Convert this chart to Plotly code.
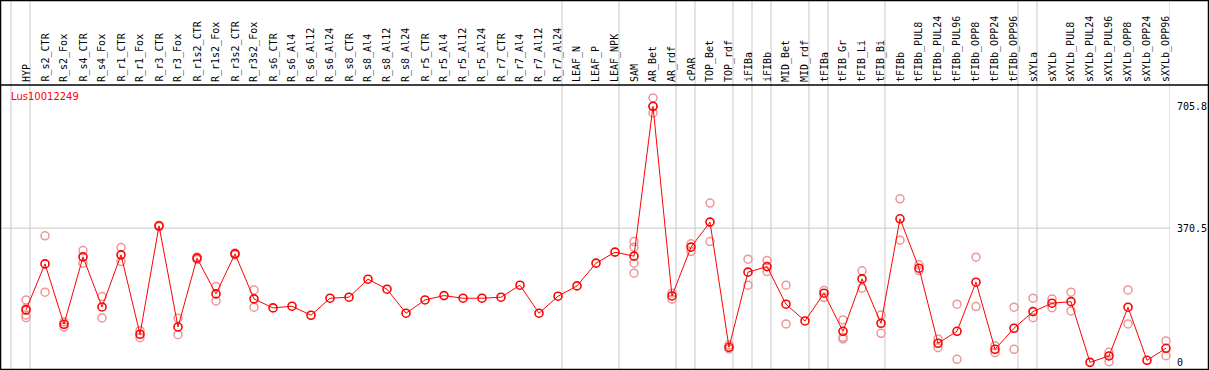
import plotly.graph_objects as go

categories = [
    "HYP", "R_s2_CTR", "R_s2_Fox", "R_s4_CTR", "R_s4_Fox", "R_r1_CTR", "R_r1_Fox",
    "R_r3_CTR", "R_r3_Fox", "R_r1s2_CTR", "R_r1s2_Fox", "R_r3s2_CTR", "R_r3s2_Fox",
    "R_s6_CTR", "R_s6_Al4", "R_s6_Al12", "R_s6_Al24", "R_s8_CTR", "R_s8_Al4",
    "R_s8_Al12", "R_s8_Al24", "R_r5_CTR", "R_r5_Al4", "R_r5_Al12", "R_r5_Al24",
    "R_r7_CTR", "R_r7_Al4", "R_r7_Al12", "R_r7_Al24", "LEAF_N", "LEAF_P", "LEAF_NPK",
    "SAM", "AR_Bet", "AR_rdf", "cPAR", "TOP_Bet", "TOP_rdf", "iFIBa", "iFIBb",
    "MID_Bet", "MID_rdf", "tFIBa", "tFIB_Gr", "tFIB_Li", "tFIB_Bi", "tFIBb",
    "tFIBb_PUL8", "tFIBb_PUL24", "tFIBb_PUL96", "tFIBb_OPP8", "tFIBb_OPP24",
    "tFIBb_OPP96", "sXYLa", "sXYLb", "sXYLb_PUL8", "sXYLb_PUL24", "sXYLb_PUL96",
    "sXYLb_OPP8", "sXYLb_OPP24", "sXYLb_OPP96",
]

mean_values = [
    145.3, 272.0, 105.8, 291.3, 153.5, 296.9, 78.3, 376.8, 98.4, 287.8, 189.4, 299.6, 175.6,
    150.8, 155.5, 130.6, 177.5, 180.3, 229.9, 202.3, 136.2, 172.8, 184.7, 177.5, 177.5,
    180.3, 213.3, 136.2, 183.0, 211.4, 274.0, 304.3,
    293.3, 705.8, 183.8, 318.1, 387.0, 42.4, 249.2, 264.6,
    161.0, 114.9, 191.3, 86.5, 230.7, 108.6, 396.1,
    260.2, 53.5, 86.5, 221.6, 36.9, 94.8,
    140.6, 163.7, 168.1, 1.0, 18.5, 152.7, 6.6, 39.7,
]

replicate_values = [
    [172.8, 149.9, 131.5, 124.0], [349.2, 194.0], [112.2, 98.4], [308.7, 274.0],
    [181.9, 123.2], [317.0, 278.4], [88.2, 68.9], [378.0, 374.0], [122.4, 77.2],
    [291.0, 284.0], [209.5, 170.1], [302.0, 297.0], [200.4, 152.7],
    [], [], [], [], [], [], [], [], [], [], [], [], [], [], [], [],
    [], [], [],
    [333.5, 318.1, 274.0, 246.4], [728.8, 705.0, 687.4], [191.3, 174.7], [327.2, 305.9],
    [439.4, 333.5], [48.8, 37.8], [285.0, 213.3], [281.1, 250.8],
    [213.3, 106.7], [], [198.5, 179.2], [117.7, 70.0, 65.3], [252.8, 205.1],
    [131.5, 81.0], [451.2, 337.4],
    [269.3, 253.6], [65.3, 41.3], [161.0, 9.4], [290.5, 154.4], [46.9, 27.6], [152.7, 36.9],
    [177.5, 124.0], [175.6, 151.6], [194.0, 142.5], [], [28.7, 2.8], [200.4, 106.7],
    [], [59.8, 19.3],
]

group_sizes = [1, 28, 3, 3, 1, 2, 1, 1, 2, 1, 3, 7, 1, 7]

y_tick_values = [0, 370.5, 705.8]
y_tick_labels = ["0", "370.5", "705.8"]
gridline_value = 370.5
title_text = "Lus10012249"

W, H = 1209, 370
PX_TOP, PX_BOTTOM = 85, 369
PX_RIGHT = 1170

xs = list(range(len(categories)))
rep_x, rep_y = [], []
for i, reps in enumerate(replicate_values):
    for v in reps:
        rep_x.append(i)
        rep_y.append(v)

fig = go.Figure()
fig.add_trace(go.Scatter(
    x=rep_x, y=rep_y, mode="markers", hoverinfo="skip",
    marker=dict(symbol="circle-open", size=8, color="rgb(238,150,150)",
                line=dict(width=1.5, color="rgb(238,150,150)")),
    showlegend=False, cliponaxis=False,
))
fig.add_trace(go.Scatter(
    x=xs, y=mean_values, mode="lines+markers",
    line=dict(color="#ff0000", width=1),
    marker=dict(symbol="circle-open", size=8, color="#ff0000",
                line=dict(width=1.6, color="#ff0000")),
    showlegend=False, cliponaxis=False,
))

shapes = []
# vertical group separators
boundary = -1
bounds = [boundary + 0.21]
for g in group_sizes:
    boundary += g
    bounds.append(boundary + 0.21)
for b in bounds:
    shapes.append(dict(type="line", xref="x", yref="paper", x0=b, x1=b,
                       y0=(H - PX_BOTTOM) / H, y1=1, line=dict(color="#c8c8c8", width=1),
                       layer="below"))
# horizontal gridline
shapes.append(dict(type="line", xref="paper", yref="y", x0=0, x1=PX_RIGHT / W,
                   y0=gridline_value, y1=gridline_value,
                   line=dict(color="#c8c8c8", width=1), layer="below"))
# frame & header separator
shapes.append(dict(type="rect", xref="paper", yref="paper", x0=0.5 / W, x1=1 - 0.5 / W,
                   y0=(H - PX_BOTTOM - 0.5) / H, y1=1 - 0.5 / H,
                   line=dict(color="black", width=1.5)))
shapes.append(dict(type="line", xref="paper", yref="paper", x0=0, x1=1,
                   y0=(H - PX_TOP) / H, y1=(H - PX_TOP) / H,
                   line=dict(color="black", width=1.5)))

annotations = []
for i, c in enumerate(categories):
    annotations.append(dict(
        x=i, xref="x", y=(H - PX_TOP + 2) / H, yref="paper",
        text=c, textangle=-90, showarrow=False,
        xanchor="center", yanchor="bottom",
        font=dict(family="DejaVu Sans Mono", size=10, color="black"),
        borderpad=0,
    ))
annotations.append(dict(
    x=10 / W, xref="paper", y=(H - 96) / H, yref="paper", text=title_text,
    showarrow=False, xanchor="left", yanchor="middle",
    font=dict(family="DejaVu Sans", size=10, color="#ff0000"), borderpad=0,
))

# y scale: data 0 -> px 362.7, 705.8 -> px 106.3
px_per_unit = (362.7 - 106.3) / 705.8
y_lo = (362.7 - PX_BOTTOM) / px_per_unit
y_hi = (362.7 - PX_TOP) / px_per_unit
x_lo = (1 - 26) / 19
x_hi = (PX_RIGHT - 26) / 19

fig.update_layout(
    width=W, height=H, margin=dict(l=0, r=0, t=0, b=0, autoexpand=False),
    paper_bgcolor="white", plot_bgcolor="white",
    shapes=shapes, annotations=annotations,
    xaxis=dict(domain=[1 / W, PX_RIGHT / W], range=[x_lo, x_hi], showgrid=False,
               zeroline=False, showticklabels=False, ticks="", showline=False,
               fixedrange=True, automargin=False),
    yaxis=dict(domain=[(H - PX_BOTTOM) / H, (H - PX_TOP) / H], range=[y_lo, y_hi],
               showgrid=False, zeroline=False, side="right", ticks="",
               tickvals=y_tick_values, ticktext=y_tick_labels, ticklabelstandoff=6,
               tickfont=dict(family="DejaVu Sans Mono", size=10, color="black"),
               showline=False, fixedrange=True, automargin=False),
)

fig.write_html(
    "out.html",
    config={"displayModeBar": False},
    post_script="document.body.style.margin='0';document.body.style.overflow='hidden';",
)
